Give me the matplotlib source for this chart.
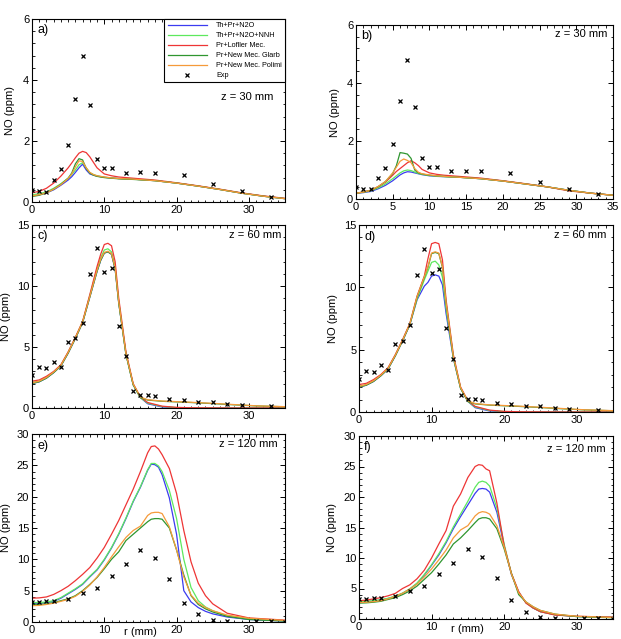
import matplotlib
matplotlib.use('Agg')
import matplotlib.pyplot as plt
from matplotlib.ticker import MultipleLocator, AutoMinorLocator

plt.rcParams['font.family'] = ['Liberation Sans', 'DejaVu Sans']
plt.rcParams['font.size'] = 8

labels = ['Th+Pr+N2O', 'Th+Pr+N2O+NNH', 'Pr+Lofller Mec.', 'Pr+New Mec. Glarb', 'Pr+New Mec. Polimi']
colors = ['#3b3bf0', '#5ee85e', '#ee3535', '#2f962f', '#f59a3a']

# ---- z = 30 mm ----
r_30 = [0, 1, 2, 3, 4, 5, 5.5, 6, 6.5, 7, 7.5, 8, 8.5, 9, 10, 11, 12, 14, 17, 20, 23, 26, 29, 32, 35]
a_blue = [0.20, 0.24, 0.30, 0.40, 0.55, 0.72, 0.83, 0.97, 1.12, 1.24, 1.05, 0.92, 0.88, 0.85, 0.81, 0.79, 0.77, 0.75, 0.70, 0.62, 0.52, 0.41, 0.29, 0.19, 0.11]
a_lgreen = [0.24, 0.27, 0.33, 0.45, 0.60, 0.78, 0.90, 1.05, 1.22, 1.29, 1.12, 0.96, 0.90, 0.86, 0.81, 0.79, 0.77, 0.75, 0.70, 0.62, 0.52, 0.41, 0.29, 0.19, 0.11]
a_red = [0.30, 0.35, 0.45, 0.62, 0.85, 1.12, 1.28, 1.45, 1.60, 1.66, 1.62, 1.48, 1.30, 1.12, 0.92, 0.86, 0.82, 0.78, 0.72, 0.63, 0.53, 0.42, 0.30, 0.20, 0.12]
a_dgreen = [0.18, 0.22, 0.30, 0.42, 0.58, 0.78, 0.95, 1.25, 1.42, 1.38, 1.10, 0.95, 0.88, 0.84, 0.80, 0.78, 0.76, 0.74, 0.70, 0.62, 0.52, 0.41, 0.29, 0.19, 0.11]
a_orange = [0.20, 0.24, 0.30, 0.42, 0.57, 0.77, 0.92, 1.15, 1.35, 1.33, 1.12, 0.97, 0.90, 0.86, 0.82, 0.79, 0.77, 0.75, 0.70, 0.62, 0.52, 0.41, 0.29, 0.19, 0.11]

b_blue = [0.20, 0.22, 0.26, 0.35, 0.47, 0.63, 0.73, 0.83, 0.90, 0.94, 0.93, 0.90, 0.87, 0.84, 0.80, 0.78, 0.77, 0.75, 0.70, 0.62, 0.52, 0.42, 0.30, 0.20, 0.13]
b_lgreen = [0.20, 0.23, 0.28, 0.38, 0.52, 0.70, 0.80, 0.90, 0.97, 1.00, 0.98, 0.93, 0.88, 0.85, 0.81, 0.79, 0.77, 0.75, 0.70, 0.62, 0.52, 0.42, 0.30, 0.20, 0.13]
b_red = [0.20, 0.24, 0.30, 0.42, 0.58, 0.82, 0.95, 1.05, 1.15, 1.25, 1.32, 1.25, 1.15, 1.02, 0.90, 0.85, 0.82, 0.78, 0.72, 0.63, 0.53, 0.42, 0.28, 0.20, 0.13]
b_dgreen = [0.20, 0.24, 0.30, 0.42, 0.60, 0.88, 1.15, 1.60, 1.58, 1.55, 1.40, 1.00, 0.90, 0.86, 0.82, 0.80, 0.78, 0.75, 0.70, 0.62, 0.52, 0.42, 0.30, 0.20, 0.13]
b_orange = [0.20, 0.24, 0.30, 0.43, 0.60, 0.90, 1.10, 1.30, 1.38, 1.33, 1.25, 1.05, 0.92, 0.87, 0.83, 0.80, 0.78, 0.75, 0.70, 0.62, 0.52, 0.42, 0.30, 0.20, 0.13]

exp_r_30 = [0, 1, 2, 3, 4, 5, 6, 7, 8, 9, 10, 11, 13, 15, 17, 21, 25, 29, 33]
exp_30 = [0.40, 0.36, 0.33, 0.72, 1.08, 1.88, 3.37, 4.80, 3.18, 1.42, 1.10, 1.10, 0.95, 0.97, 0.95, 0.88, 0.60, 0.36, 0.17]

# ---- z = 60 mm ----
r_60 = [0, 1, 2, 3, 4, 5, 6, 7, 8, 9, 9.5, 10, 10.5, 11, 11.5, 12, 13, 14, 15, 16, 18, 20, 22, 25, 28, 31, 35]
c_blue = [2.00, 2.15, 2.45, 2.90, 3.45, 4.50, 5.70, 7.00, 9.10, 11.20, 12.10, 12.70, 12.80, 12.60, 11.40, 8.60, 4.40, 1.90, 0.85, 0.35, 0.08, 0.02, 0.0, 0.0, 0.0, 0.0, 0.0]
c_lgreen = [2.10, 2.20, 2.50, 2.95, 3.50, 4.55, 5.75, 7.05, 9.20, 11.40, 12.30, 12.95, 13.05, 12.80, 11.60, 8.70, 4.40, 1.90, 0.85, 0.40, 0.12, 0.04, 0.01, 0.0, 0.0, 0.0, 0.0]
c_red = [2.20, 2.30, 2.60, 3.00, 3.55, 4.60, 5.80, 7.10, 9.30, 11.60, 12.60, 13.40, 13.50, 13.30, 12.00, 9.00, 4.60, 2.00, 0.90, 0.45, 0.15, 0.05, 0.02, 0.01, 0.0, 0.0, 0.0]
c_dgreen = [2.00, 2.15, 2.45, 2.90, 3.45, 4.50, 5.70, 7.00, 9.10, 11.20, 12.10, 12.70, 12.80, 12.60, 11.40, 8.60, 4.40, 1.90, 0.85, 0.65, 0.55, 0.50, 0.45, 0.36, 0.26, 0.17, 0.10]
c_orange = [2.05, 2.20, 2.50, 2.95, 3.50, 4.55, 5.75, 7.05, 9.15, 11.30, 12.20, 12.75, 12.85, 12.65, 11.50, 8.70, 4.45, 1.95, 0.90, 0.68, 0.57, 0.52, 0.47, 0.38, 0.28, 0.18, 0.11]

d_blue = [2.00, 2.15, 2.45, 2.90, 3.45, 4.50, 5.70, 7.00, 9.00, 10.10, 10.40, 10.90, 11.00, 10.90, 10.20, 7.90, 4.30, 1.90, 0.85, 0.35, 0.08, 0.02, 0.0, 0.0, 0.0, 0.0, 0.0]
d_lgreen = [2.05, 2.20, 2.50, 2.95, 3.50, 4.55, 5.75, 7.05, 9.05, 10.60, 11.30, 12.00, 12.10, 11.80, 10.80, 8.30, 4.35, 1.90, 0.85, 0.40, 0.12, 0.04, 0.01, 0.0, 0.0, 0.0, 0.0]
d_red = [2.20, 2.30, 2.60, 3.00, 3.55, 4.60, 5.80, 7.10, 9.30, 10.90, 12.30, 13.50, 13.60, 13.50, 12.20, 9.00, 4.60, 2.00, 0.90, 0.45, 0.15, 0.05, 0.02, 0.01, 0.0, 0.0, 0.0]
d_dgreen = [2.00, 2.15, 2.45, 2.90, 3.45, 4.50, 5.70, 7.00, 9.20, 10.80, 11.60, 12.70, 12.80, 12.70, 11.60, 8.70, 4.40, 1.90, 0.85, 0.65, 0.55, 0.50, 0.45, 0.36, 0.26, 0.17, 0.10]
d_orange = [2.05, 2.20, 2.50, 2.95, 3.50, 4.55, 5.75, 7.05, 9.25, 10.85, 11.65, 12.75, 12.85, 12.75, 11.65, 8.75, 4.45, 1.95, 0.90, 0.68, 0.57, 0.52, 0.47, 0.38, 0.28, 0.18, 0.11]

exp_r_60 = [0, 1, 2, 3, 4, 5, 6, 7, 8, 9, 10, 11, 12, 13, 14, 15, 16, 17, 19, 21, 23, 25, 27, 29, 33]
exp_60 = [2.67, 3.32, 3.24, 3.80, 3.40, 5.42, 5.72, 6.95, 10.95, 13.08, 11.15, 11.50, 6.73, 4.28, 1.36, 1.04, 1.04, 0.95, 0.74, 0.63, 0.52, 0.46, 0.33, 0.25, 0.19]

# ---- z = 120 mm ----
r_120 = [0, 1, 2, 3, 4, 5, 6, 7, 8, 9, 10, 11, 12, 13, 14, 15, 16, 16.5, 17, 17.5, 18, 19, 20, 21, 22, 23, 24, 25, 27, 30, 35]
e_blue = [3.0, 3.0, 3.1, 3.3, 3.8, 4.5, 5.2, 6.0, 7.2, 8.3, 9.9, 11.8, 14.0, 16.5, 19.2, 21.5, 24.2, 25.2, 25.1, 24.7, 23.5, 19.8, 14.0, 5.0, 3.2, 2.3, 1.7, 1.3, 0.8, 0.4, 0.15]
e_lgreen = [3.1, 3.1, 3.2, 3.4, 3.9, 4.6, 5.3, 6.1, 7.3, 8.4, 10.0, 11.9, 14.1, 16.6, 19.3, 21.6, 24.3, 25.3, 25.3, 24.9, 24.0, 21.0, 16.5, 10.0, 5.5, 3.4, 2.4, 1.8, 1.0, 0.5, 0.2]
e_red = [3.8, 3.85, 4.0, 4.4, 5.0, 5.7, 6.6, 7.6, 8.7, 10.2, 11.9, 14.0, 16.2, 18.7, 21.2, 24.0, 27.0, 28.0, 28.1, 27.6, 26.7, 24.5, 20.5, 14.6, 9.6, 6.2, 4.2, 2.9, 1.4, 0.65, 0.3]
e_dgreen = [2.8, 2.8, 2.9, 3.1, 3.4, 3.7, 4.2, 5.0, 6.0, 7.1, 8.5, 10.0, 11.2, 13.0, 14.0, 15.0, 16.0, 16.4, 16.5, 16.5, 16.4, 15.0, 11.5, 7.5, 4.2, 2.8, 2.1, 1.6, 0.9, 0.4, 0.15]
e_orange = [2.6, 2.65, 2.8, 3.0, 3.3, 3.6, 4.1, 4.9, 5.9, 7.2, 8.7, 10.4, 12.0, 13.5, 14.6, 15.3, 17.0, 17.4, 17.5, 17.5, 17.3, 15.2, 11.5, 7.2, 4.3, 3.0, 2.3, 1.8, 1.1, 0.6, 0.25]

f_blue = [2.8, 2.85, 2.95, 3.1, 3.35, 3.7, 4.2, 4.9, 5.8, 7.2, 8.8, 10.5, 12.5, 14.8, 16.8, 18.7, 20.6, 21.3, 21.4, 21.3, 20.8, 17.5, 12.0, 7.3, 4.4, 2.7, 1.8, 1.2, 0.7, 0.4, 0.3]
f_lgreen = [2.85, 2.9, 3.0, 3.15, 3.4, 3.75, 4.25, 4.95, 5.9, 7.3, 8.9, 10.7, 12.7, 15.1, 17.2, 19.3, 21.6, 22.4, 22.6, 22.4, 21.8, 18.2, 12.3, 7.4, 4.4, 2.7, 1.8, 1.2, 0.7, 0.4, 0.3]
f_red = [3.0, 3.1, 3.3, 3.5, 3.8, 4.2, 5.0, 5.6, 6.6, 8.0, 10.0, 12.3, 14.5, 18.5, 20.5, 23.2, 25.0, 25.3, 25.2, 24.6, 24.3, 19.0, 12.0, 7.5, 4.5, 2.6, 1.8, 1.2, 0.65, 0.45, 0.3]
f_dgreen = [2.6, 2.65, 2.75, 2.9, 3.2, 3.5, 4.0, 4.6, 5.4, 6.5, 7.6, 9.0, 10.5, 12.3, 13.3, 14.5, 15.8, 16.4, 16.6, 16.6, 16.4, 14.8, 11.5, 7.5, 4.0, 2.8, 2.0, 1.4, 0.8, 0.4, 0.2]
f_orange = [2.7, 2.75, 2.85, 3.0, 3.3, 3.7, 4.2, 4.9, 5.7, 6.9, 8.2, 9.7, 11.3, 13.3, 14.6, 15.3, 16.9, 17.4, 17.6, 17.5, 17.2, 15.3, 11.8, 7.4, 4.3, 2.8, 2.0, 1.4, 0.8, 0.45, 0.25]

exp_r_120 = [0, 1, 2, 3, 5, 7, 9, 11, 13, 15, 17, 19, 21, 23, 25, 27, 31, 33, 35]
exp_120 = [3.2, 3.25, 3.4, 3.4, 3.73, 4.63, 5.43, 7.4, 9.2, 11.45, 10.2, 6.8, 3.04, 1.22, 0.37, 0.16, 0.1, 0.1, 0.05]

W, H = 621, 639
fig = plt.figure(figsize=(W / 100, H / 100), dpi=100)


def box(left, top, right, bottom):
    return [left / W, 1 - bottom / H, (right - left) / W, (bottom - top) / H]


def panel(rect, r, series, er, ev, ymax, ystep, xstep, tag, ztxt, zpos, ylab_x, xlab=False):
    ax = fig.add_axes(rect)
    for vals, c in zip(series, colors):
        ax.plot(r, vals, color=c, lw=0.9)
    ax.plot(er, ev, 'x', color='black', ms=3.5, mew=0.9, label='Exp')
    ax.set_xlim(0, 35)
    ax.set_ylim(0, ymax)
    ax.xaxis.set_major_locator(MultipleLocator(xstep))
    ax.yaxis.set_major_locator(MultipleLocator(ystep))
    ax.xaxis.set_minor_locator(MultipleLocator(1))
    ax.yaxis.set_minor_locator(AutoMinorLocator(5))
    ax.tick_params(which='both', direction='in', top=True, right=True, labelsize=8, pad=2)
    ax.tick_params(which='major', length=3.5, width=0.7)
    ax.tick_params(which='minor', length=1.8, width=0.6)
    for s in ax.spines.values():
        s.set_linewidth(0.8)
    ax.set_ylabel('NO (ppm)', fontsize=8)
    ax.yaxis.set_label_coords(ylab_x, 0.5)
    ax.text(0.02, 0.97, tag, transform=ax.transAxes, ha='left', va='top', fontsize=9)
    ax.text(zpos[0], zpos[1], ztxt, transform=ax.transAxes, ha='right', va='center', fontsize=8)
    if xlab:
        ax.text(15, -0.055, 'r (mm)', transform=ax.get_xaxis_transform(), ha='center', va='center', fontsize=8)
    return ax


ax_a = panel(box(32, 19, 285, 202), r_30, [a_blue, a_lgreen, a_red, a_dgreen, a_orange],
             exp_r_30, exp_30, 6, 2, 10, 'a)', 'z = 30 mm', (0.955, 0.575), -0.067)
handles = ax_a.get_lines()
ax_a.legend(handles, labels + ['Exp'], loc='upper right', fontsize=5.2, frameon=True, fancybox=False,
            edgecolor='black', framealpha=1, borderaxespad=0, handlelength=5.5, labelspacing=0.4,
            borderpad=0.45, handletextpad=1.2, numpoints=1).get_frame().set_linewidth(0.8)

panel(box(356, 25, 613, 199), r_30, [b_blue, b_lgreen, b_red, b_dgreen, b_orange],
      exp_r_30, exp_30, 6, 2, 5, 'b)', 'z = 30 mm', (0.98, 0.95), -0.062)
panel(box(32, 225, 285, 408), r_60, [c_blue, c_lgreen, c_red, c_dgreen, c_orange],
      exp_r_60, exp_60, 15, 5, 10, 'c)', 'z = 60 mm', (0.985, 0.945), -0.083)
panel(box(359, 225, 613, 412), r_60, [d_blue, d_lgreen, d_red, d_dgreen, d_orange],
      exp_r_60, exp_60, 15, 5, 10, 'd)', 'z = 60 mm', (0.975, 0.945), -0.083)
panel(box(32, 434, 285, 622), r_120, [e_blue, e_lgreen, e_red, e_dgreen, e_orange],
      exp_r_120, exp_120, 30, 5, 10, 'e)', 'z = 120 mm', (0.97, 0.945), -0.083, xlab=True)
panel(box(359, 436, 613, 619), r_120, [f_blue, f_lgreen, f_red, f_dgreen, f_orange],
      exp_r_120, exp_120, 30, 5, 10, 'f)', 'z = 120 mm', (0.97, 0.93), -0.087, xlab=True)

fig.savefig('out.png', dpi=100)
